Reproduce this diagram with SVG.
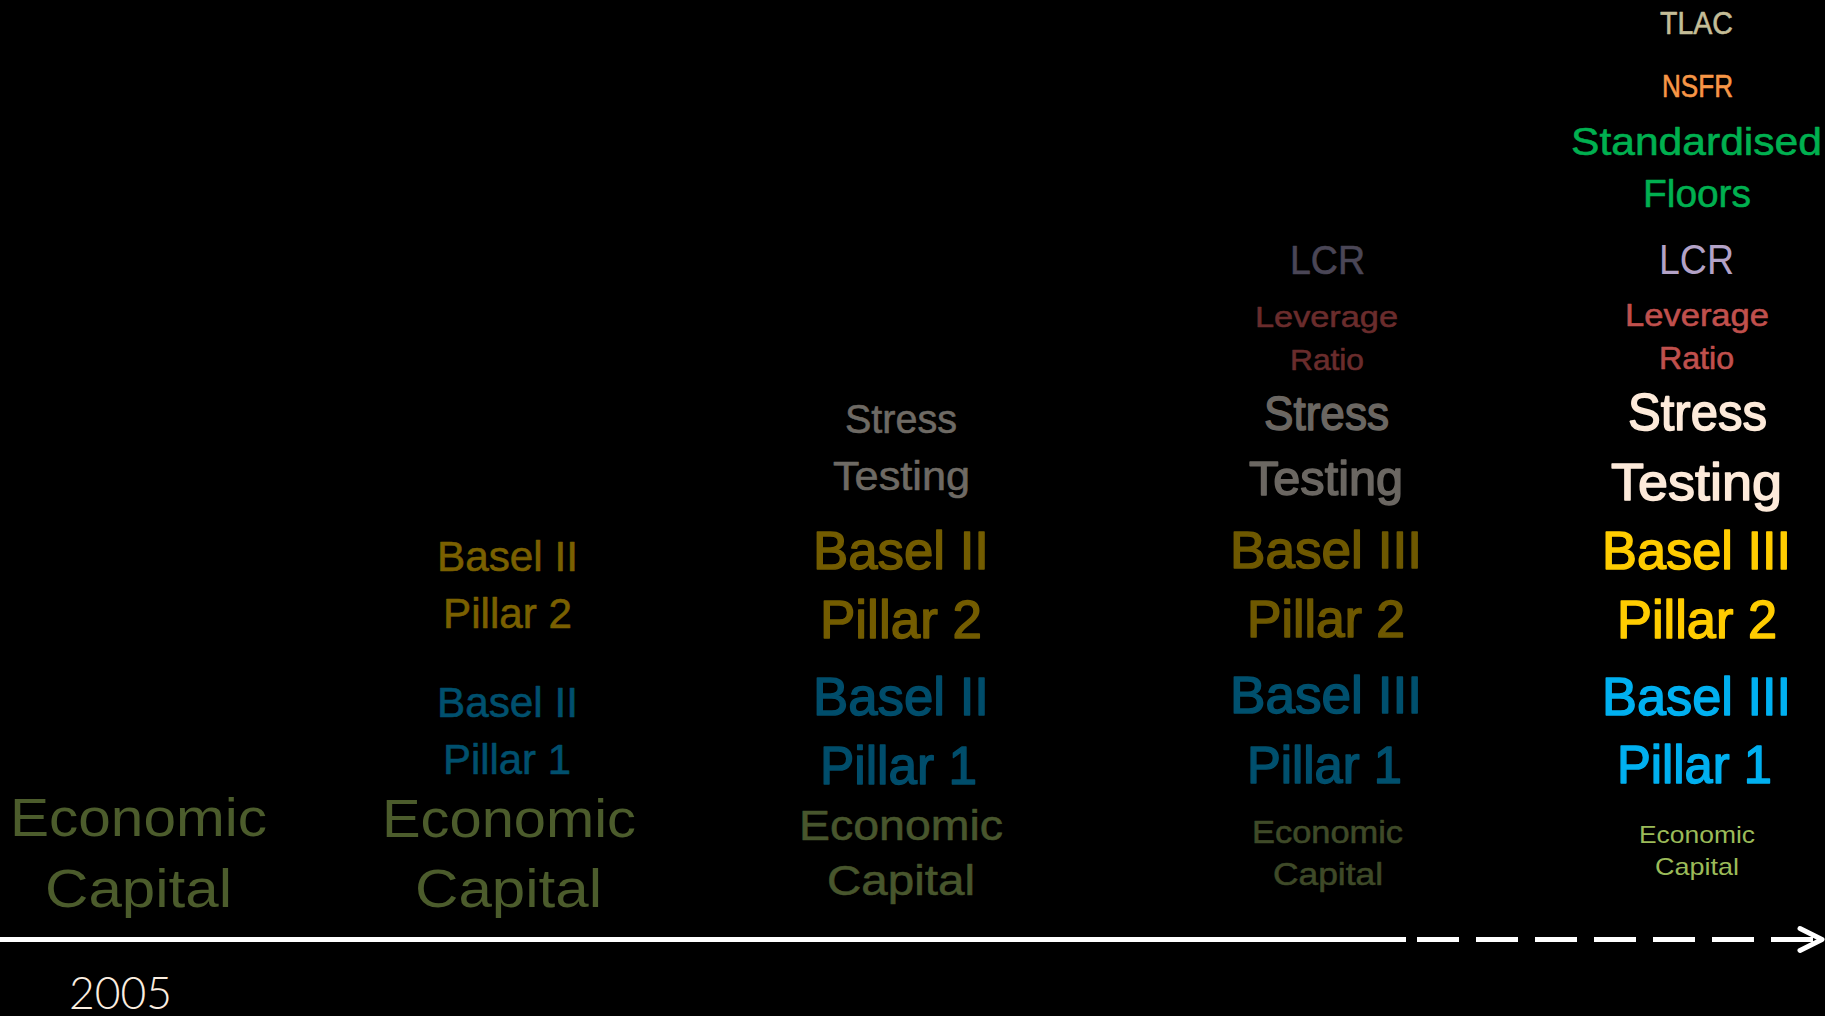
<svg xmlns="http://www.w3.org/2000/svg" width="1825" height="1016" viewBox="0 0 1825 1016">
<style>
text { font-family: "Liberation Sans", Arial, sans-serif; text-anchor: middle; font-weight: 400; stroke-width: 0; stroke-linejoin: round; }
.b text { stroke-width: 1.5px; }
.m text { stroke-width: 0.6px; }
.econ1 { fill: #4C5C2C; stroke: #4C5C2C; }
.econ3 { fill: #48562D; stroke: #48562D; }
.econ4 { fill: #3F4A28; stroke: #3F4A28; }
.econ5 { fill: #9BBB59; stroke: #9BBB59; }
.gold2 { fill: #7A6000; stroke: #7A6000; }
.gold3 { fill: #735C00; stroke: #735C00; }
.gold4 { fill: #6E5800; stroke: #6E5800; }
.gold5 { fill: #FFCC00; stroke: #FFCC00; }
.blue2 { fill: #00506E; stroke: #00506E; }
.blue3 { fill: #004D6B; stroke: #004D6B; }
.blue4 { fill: #00506E; stroke: #00506E; }
.blue5 { fill: #00B0F0; stroke: #00B0F0; }
.st3 { fill: #6E6A64; stroke: #6E6A64; }
.st4 { fill: #6B6762; stroke: #6B6762; }
.st5 { fill: #FDEADA; stroke: #FDEADA; }
.lcr4 { fill: #4A4656; stroke: #4A4656; }
.lcr5 { fill: #B3A2C7; stroke: #B3A2C7; }
.lev4 { fill: #6A2C2C; stroke: #6A2C2C; }
.lev5 { fill: #C0504D; stroke: #C0504D; }
.tlac { fill: #C4BD97; stroke: #C4BD97; }
.nsfr { fill: #F79646; stroke: #F79646; }
.floors { fill: #00B050; stroke: #00B050; }
.year text { fill: #FBEEE0; font-family: Lato, "Liberation Sans", sans-serif; font-weight: 300; }
.axis { stroke: #FFFFFF; stroke-width: 5; fill: none; }
</style>
<defs>
<marker id="arr" markerUnits="userSpaceOnUse" markerWidth="30" markerHeight="30" refX="24" refY="13" orient="auto" overflow="visible">
<path d="M2,2 L24,13 L2,24" fill="none" stroke="#FFFFFF" stroke-width="5" stroke-linecap="round" stroke-linejoin="round"/>
</marker>
</defs>
<rect width="1825" height="1016" fill="#000000"/>

<g id="connectors">
<line class="axis" x1="0" y1="939.5" x2="1406" y2="939.5"/>
<line class="axis" x1="1417" y1="939.5" x2="1822" y2="939.5" stroke-dasharray="42 17" marker-end="url(#arr)"/>
</g>

<!-- Column 1 -->
<g id="col1-economic-capital" class="econ1">
<text x="138.5" y="836" font-size="53" textLength="257" lengthAdjust="spacingAndGlyphs">Economic</text>
<text x="138.5" y="907" font-size="53" textLength="187" lengthAdjust="spacingAndGlyphs">Capital</text>
</g>
<g id="year-2005" class="year">
<text x="120.5" y="1009" font-size="46" textLength="103" lengthAdjust="spacingAndGlyphs">2005</text>
</g>

<!-- Column 2 -->
<g id="col2-pillar2" class="gold2 m">
<text x="507.5" y="571" font-size="42" textLength="141" lengthAdjust="spacingAndGlyphs">Basel II</text>
<text x="507.5" y="628" font-size="42" textLength="129" lengthAdjust="spacingAndGlyphs">Pillar 2</text>
</g>
<g id="col2-pillar1" class="blue2 m">
<text x="507.5" y="717" font-size="42" textLength="141" lengthAdjust="spacingAndGlyphs">Basel II</text>
<text x="507" y="774" font-size="42" textLength="128" lengthAdjust="spacingAndGlyphs">Pillar 1</text>
</g>
<g id="col2-economic-capital" class="econ1">
<text x="509" y="837" font-size="53" textLength="254" lengthAdjust="spacingAndGlyphs">Economic</text>
<text x="508.5" y="907" font-size="53" textLength="187" lengthAdjust="spacingAndGlyphs">Capital</text>
</g>

<!-- Column 3 -->
<g id="col3-stress-testing" class="st3 m">
<text x="901" y="433" font-size="40" textLength="112" lengthAdjust="spacingAndGlyphs">Stress</text>
<text x="901.5" y="490" font-size="40" textLength="137" lengthAdjust="spacingAndGlyphs">Testing</text>
</g>
<g id="col3-pillar2" class="gold3 b">
<text x="901" y="569" font-size="54" textLength="176" lengthAdjust="spacingAndGlyphs">Basel II</text>
<text x="901" y="638" font-size="54" textLength="162" lengthAdjust="spacingAndGlyphs">Pillar 2</text>
</g>
<g id="col3-pillar1" class="blue3 b">
<text x="901" y="715" font-size="54" textLength="176" lengthAdjust="spacingAndGlyphs">Basel II</text>
<text x="898.5" y="784" font-size="54" textLength="157" lengthAdjust="spacingAndGlyphs">Pillar 1</text>
</g>
<g id="col3-economic-capital" class="econ3 m">
<text x="901" y="840" font-size="43" textLength="204" lengthAdjust="spacingAndGlyphs">Economic</text>
<text x="901" y="895" font-size="43" textLength="148" lengthAdjust="spacingAndGlyphs">Capital</text>
</g>

<!-- Column 4 -->
<g id="col4-lcr" class="lcr4 m">
<text x="1327.5" y="274" font-size="40" textLength="75" lengthAdjust="spacingAndGlyphs">LCR</text>
</g>
<g id="col4-leverage-ratio" class="lev4 m">
<text x="1326.5" y="327" font-size="30" textLength="143" lengthAdjust="spacingAndGlyphs">Leverage</text>
<text x="1327" y="370" font-size="30" textLength="74" lengthAdjust="spacingAndGlyphs">Ratio</text>
</g>
<g id="col4-stress-testing" class="st4 b">
<text x="1326.5" y="430" font-size="48" textLength="125" lengthAdjust="spacingAndGlyphs">Stress</text>
<text x="1326" y="495" font-size="48" textLength="154" lengthAdjust="spacingAndGlyphs">Testing</text>
</g>
<g id="col4-pillar2" class="gold4 b">
<text x="1326" y="568" font-size="51" textLength="192" lengthAdjust="spacingAndGlyphs">Basel III</text>
<text x="1326" y="637" font-size="51" textLength="158" lengthAdjust="spacingAndGlyphs">Pillar 2</text>
</g>
<g id="col4-pillar1" class="blue4 b">
<text x="1326" y="713" font-size="51" textLength="192" lengthAdjust="spacingAndGlyphs">Basel III</text>
<text x="1324.5" y="783" font-size="51" textLength="155" lengthAdjust="spacingAndGlyphs">Pillar 1</text>
</g>
<g id="col4-economic-capital" class="econ4 m">
<text x="1327.5" y="843" font-size="32" textLength="151" lengthAdjust="spacingAndGlyphs">Economic</text>
<text x="1328" y="885" font-size="32" textLength="110" lengthAdjust="spacingAndGlyphs">Capital</text>
</g>

<!-- Column 5 -->
<g id="col5-tlac" class="tlac m">
<text x="1696.5" y="34" font-size="31" textLength="73" lengthAdjust="spacingAndGlyphs">TLAC</text>
</g>
<g id="col5-nsfr" class="nsfr m">
<text x="1697.5" y="97" font-size="31" textLength="71" lengthAdjust="spacingAndGlyphs">NSFR</text>
</g>
<g id="col5-standardised-floors" class="floors m">
<text x="1696.5" y="155" font-size="39" textLength="251" lengthAdjust="spacingAndGlyphs">Standardised</text>
<text x="1697" y="207" font-size="39" textLength="108" lengthAdjust="spacingAndGlyphs">Floors</text>
</g>
<g id="col5-lcr" class="lcr5">
<text x="1696.5" y="274" font-size="43" textLength="75" lengthAdjust="spacingAndGlyphs">LCR</text>
</g>
<g id="col5-leverage-ratio" class="lev5 m">
<text x="1697" y="326" font-size="31" textLength="144" lengthAdjust="spacingAndGlyphs">Leverage</text>
<text x="1696.5" y="369" font-size="31" textLength="75" lengthAdjust="spacingAndGlyphs">Ratio</text>
</g>
<g id="col5-stress-testing" class="st5 b">
<text x="1697.5" y="430" font-size="52" textLength="139" lengthAdjust="spacingAndGlyphs">Stress</text>
<text x="1696.5" y="500" font-size="52" textLength="171" lengthAdjust="spacingAndGlyphs">Testing</text>
</g>
<g id="col5-pillar2" class="gold5 b">
<text x="1696.5" y="569" font-size="53" textLength="189" lengthAdjust="spacingAndGlyphs">Basel III</text>
<text x="1697" y="638" font-size="53" textLength="160" lengthAdjust="spacingAndGlyphs">Pillar 2</text>
</g>
<g id="col5-pillar1" class="blue5 b">
<text x="1696.5" y="715" font-size="53" textLength="189" lengthAdjust="spacingAndGlyphs">Basel III</text>
<text x="1694.5" y="783" font-size="53" textLength="155" lengthAdjust="spacingAndGlyphs">Pillar 1</text>
</g>
<g id="col5-economic-capital" class="econ5">
<text x="1697" y="843" font-size="24" textLength="116" lengthAdjust="spacingAndGlyphs">Economic</text>
<text x="1697" y="875" font-size="24" textLength="84" lengthAdjust="spacingAndGlyphs">Capital</text>
</g>
</svg>
